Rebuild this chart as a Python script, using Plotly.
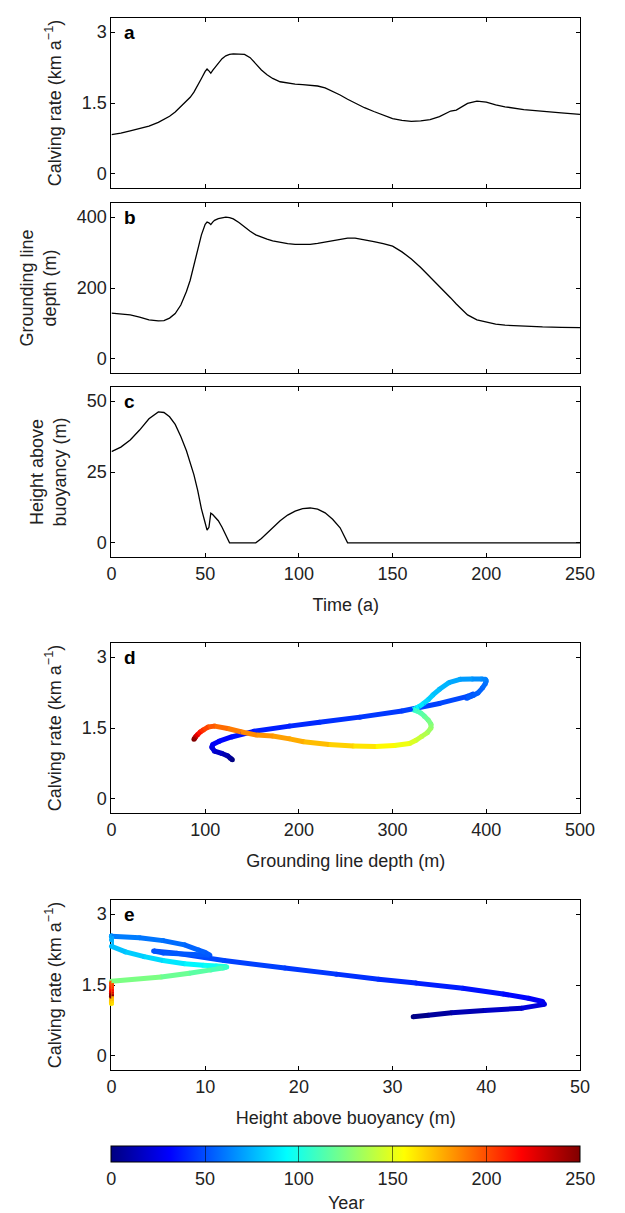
import plotly.graph_objects as go
import plotly.colors as pc

# ---- data (time in years) ----
time = [0, 5, 10, 15, 20, 25, 28, 31, 34, 37, 40, 42, 44, 46, 48, 50, 51, 52, 53, 54,
        55, 57, 59, 61, 63, 65, 68, 71, 74, 77, 80, 83, 86, 90, 94, 98, 102, 106, 110, 114,
        118, 122, 126, 130, 135, 140, 145, 150, 155, 160, 165, 170, 175, 178, 181, 184, 187, 190, 195, 200,
        205, 210, 220, 230, 240, 250]

calving = [0.83, 0.86, 0.91, 0.96, 1.01, 1.09, 1.15, 1.22, 1.31, 1.43, 1.54, 1.62, 1.73, 1.86, 2.02, 2.17, 2.22, 2.18, 2.13, 2.19,
           2.24, 2.35, 2.44, 2.50, 2.53, 2.54, 2.54, 2.53, 2.46, 2.32, 2.20, 2.10, 2.02, 1.95, 1.92, 1.90, 1.89, 1.88, 1.86, 1.82,
           1.75, 1.67, 1.58, 1.50, 1.40, 1.32, 1.24, 1.17, 1.13, 1.11, 1.12, 1.15, 1.21, 1.27, 1.33, 1.35, 1.42, 1.49, 1.54, 1.52,
           1.46, 1.42, 1.36, 1.32, 1.29, 1.26]

gl_depth = [129, 127, 124, 118, 110, 107, 108, 115, 128, 152, 190, 222, 265, 310, 350, 380, 386, 384, 379, 386,
            391, 396, 399, 400, 399, 395, 385, 372, 360, 350, 343, 338, 333, 328, 325, 323, 322, 323, 326, 330,
            334, 338, 341, 341, 337, 331, 325, 318, 302, 282, 258, 232, 205, 190, 172, 155, 138, 124, 110, 103,
            98, 95, 92, 90, 89, 88]

hab = [32.2, 33.8, 36.3, 39.8, 43.8, 46.2, 46.0, 44.5, 41.8, 37.5, 32.5, 28.5, 24.0, 18.5, 12.0, 7.0, 4.5, 5.5, 10.5, 10.0,
       9.3, 7.8, 5.5, 3.0, 0, 0, 0, 0, 0, 0, 1.5, 3.5, 5.5, 7.8, 9.8, 11.2, 12.1, 12.3, 11.9, 10.6,
       8.3, 5.3, 0, 0, 0, 0, 0, 0, 0, 0, 0, 0, 0, 0, 0, 0, 0, 0, 0, 0,
       0, 0, 0, 0, 0, 0]

year_ticks = [0, 50, 100, 150, 200, 250]

W, H = 625, 1213
FONT = "Liberation Sans, Arial, sans-serif"
FS = 18


def ydom(top, bot):
    return [1 - bot / H, 1 - top / H]


XDOM = [110 / W, 594 / W]

jet = [[0, 'rgb(0,0,128)'], [0.125, 'rgb(0,0,255)'], [0.375, 'rgb(0,255,255)'],
       [0.625, 'rgb(255,255,0)'], [0.875, 'rgb(255,0,0)'], [1, 'rgb(128,0,0)']]

fig = go.Figure()

# panels a-c
for yv, xa, ya in [(calving, 'x', 'y'), (gl_depth, 'x2', 'y2'), (hab, 'x3', 'y3')]:
    fig.add_trace(go.Scatter(x=time, y=yv, mode='lines',
                             line=dict(color='black', width=1.3),
                             xaxis=xa, yaxis=ya, showlegend=False, hoverinfo='skip'))

# panels d, e: coloured by year
for xs, xa, ya in [(gl_depth, 'x4', 'y4'), (hab, 'x5', 'y5')]:
    fig.add_trace(go.Scatter(x=xs, y=calving, mode='markers',
                             marker=dict(color=time, coloraxis='coloraxis', size=5, line=dict(width=0)),
                             xaxis=xa, yaxis=ya, cliponaxis=False, showlegend=False, hoverinfo='skip'))
    for i in range(len(time) - 1):
        tm = (time[i] + time[i + 1]) / 2
        col = pc.sample_colorscale(jet, tm / 250)[0]
        fig.add_trace(go.Scatter(x=xs[i:i + 2], y=calving[i:i + 2], mode='lines',
                                 line=dict(color=col, width=5),
                                 xaxis=xa, yaxis=ya, showlegend=False, hoverinfo='skip'))

axis_common = dict(showline=True, linecolor='black', linewidth=1, mirror='allticks',
                   ticks='inside', ticklen=4, tickcolor='black', showgrid=False, zeroline=False,
                   tickfont=dict(family=FONT, size=FS, color='#222'))

cr_title = "Calving rate (km a<sup>−1</sup>)"

layout = dict(
    width=W, height=H, margin=dict(l=0, r=0, t=0, b=0),
    paper_bgcolor='white', plot_bgcolor='white',
    font=dict(family=FONT, size=FS, color='#222'),
    coloraxis=dict(colorscale=jet, cmin=0, cmax=250,
                   colorbar=dict(orientation='h', x=(XDOM[0] + XDOM[1]) / 2, xanchor='center',
                                 y=1 - 1146 / H, yanchor='top', len=XDOM[1] - XDOM[0], lenmode='fraction',
                                 thickness=16, xpad=0, ypad=0, outlinewidth=1, outlinecolor='black',
                                 tickvals=year_ticks, ticks='inside', ticklen=16, tickcolor='rgba(0,0,0,0.55)',
                                 tickfont=dict(family=FONT, size=FS, color='#222'))),
)

doms = {'': ydom(18, 188), '2': ydom(203, 373), '3': ydom(387, 557), '4': ydom(643, 813), '5': ydom(900, 1070)}

for k in ['', '2', '3']:
    layout['xaxis' + k] = dict(axis_common, domain=XDOM, range=[0, 250], tickvals=year_ticks,
                               showticklabels=(k == '3'), anchor='y' + k)
layout['xaxis3']['title'] = dict(text='Time (a)', font=dict(family=FONT, size=FS))
layout['yaxis'] = dict(axis_common, domain=doms[''], range=[-0.3, 3.3], tickvals=[0, 1.5, 3],
                       ticktext=['0', '1.5', '3'], anchor='x', title=dict(text=cr_title, font=dict(family=FONT, size=FS)))
layout['yaxis2'] = dict(axis_common, domain=doms['2'], range=[-40, 440], tickvals=[0, 200, 400], anchor='x2',
                        title=dict(text='Grounding line<br>depth (m)', font=dict(family=FONT, size=FS)))
layout['yaxis3'] = dict(axis_common, domain=doms['3'], range=[-5, 55], tickvals=[0, 25, 50], anchor='x3',
                        title=dict(text='Height above<br>buoyancy (m)', font=dict(family=FONT, size=FS)))
layout['xaxis4'] = dict(axis_common, domain=XDOM, range=[0, 500], tickvals=[0, 100, 200, 300, 400, 500], anchor='y4',
                        title=dict(text='Grounding line depth (m)', font=dict(family=FONT, size=FS)))
layout['yaxis4'] = dict(axis_common, domain=doms['4'], range=[-0.3, 3.3], tickvals=[0, 1.5, 3],
                        ticktext=['0', '1.5', '3'], anchor='x4', title=dict(text=cr_title, font=dict(family=FONT, size=FS)))
layout['xaxis5'] = dict(axis_common, domain=XDOM, range=[0, 50], tickvals=[0, 10, 20, 30, 40, 50], anchor='y5',
                        title=dict(text='Height above buoyancy (m)', font=dict(family=FONT, size=FS)))
layout['yaxis5'] = dict(axis_common, domain=doms['5'], range=[-0.3, 3.3], tickvals=[0, 1.5, 3],
                        ticktext=['0', '1.5', '3'], anchor='x5', layer='below traces',
                        title=dict(text=cr_title, font=dict(family=FONT, size=FS)))

fig.update_layout(**layout)

for letter, k in [('a', ''), ('b', '2'), ('c', '3'), ('d', '4'), ('e', '5')]:
    fig.add_annotation(text='<b>' + letter + '</b>', xref=('x' + k if k else 'x') + ' domain',
                       yref=('y' + k if k else 'y') + ' domain', x=0.022, y=0.915,
                       xanchor='left', yanchor='middle', showarrow=False,
                       font=dict(family=FONT, size=FS + 1, color='black'))

# colour bar title
fig.add_annotation(text='Year', xref='paper', yref='paper', x=(XDOM[0] + XDOM[1]) / 2, y=1 - 1203 / H,
                   xanchor='center', yanchor='middle', showarrow=False,
                   font=dict(family=FONT, size=FS, color='#222'))

fig.write_html("out.html")
